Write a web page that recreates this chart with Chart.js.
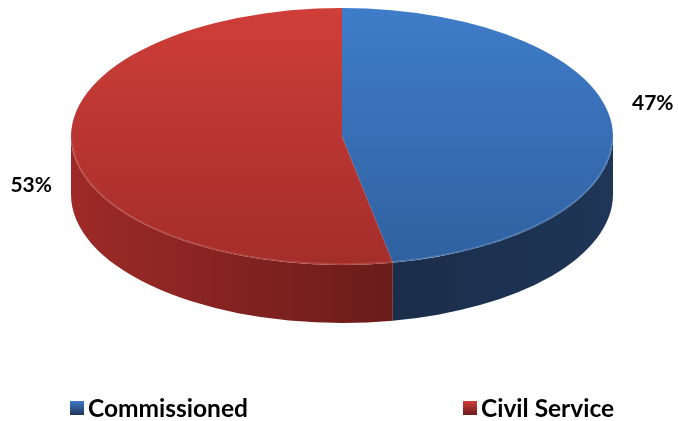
<!DOCTYPE html>
<html>
<head>
<meta charset="utf-8">
<script src="https://cdn.jsdelivr.net/npm/chart.js@4/dist/chart.umd.min.js"></script>
<style>
  html, body { margin: 0; padding: 0; background: #fff; }
  canvas { display: block; }
</style>
</head>
<body>
<canvas id="pie" width="678" height="421"></canvas>
<script>
// data
const categories = ["Commissioned", "Civil Service"];
const shares = [47, 53];

// palette: [light, dark] for the top face and the side wall of each slice
const topColors = [["#3f7cc9", "#2f61a0"], ["#cf3e38", "#a42d2a"]];
const sideColors = [["#1a2d4a", "#1f3658"], ["#9e2a27", "#6a1c1b"]];

const TILT = 0.474;   // vertical squash of the disc
const DEPTH = 58;     // thickness of the disc in px
const FONT = "Lato, 'Open Sans', sans-serif";

// vertical gradient for a slice's top face (coords are pre-squash)
function topFill(c) {
  const i = c.dataIndex;
  const { ctx, chartArea } = c.chart;
  if (!chartArea) return topColors[i][0];
  const cy = (chartArea.top + chartArea.bottom) / 2;
  const g = ctx.createLinearGradient(0, cy - 271, 0, cy + 271);
  g.addColorStop(0, topColors[i][0]);
  g.addColorStop(1, topColors[i][1]);
  return g;
}

// visible parts of [s,e] on the front half of the disc (angles 0..PI)
function frontSpans(s, e) {
  const out = [];
  for (const k of [-2, 0, 2]) {
    const a0 = Math.max(s, k * Math.PI), a1 = Math.min(e, k * Math.PI + Math.PI);
    if (a1 > a0) out.push([a0 - k * Math.PI, a1 - k * Math.PI]);
  }
  return out;
}

const pie3d = {
  id: "pie3d",
  beforeDatasetsDraw(chart) {
    const ctx = chart.ctx;
    const arcs = chart.getDatasetMeta(0).data;
    const { x: cx, y: cy, outerRadius: r } = arcs[0];
    const ry = r * TILT;

    // side walls go underneath the top faces
    arcs.forEach((arc, i) => {
      frontSpans(arc.startAngle, arc.endAngle).forEach(([a0, a1]) => {
        const x0 = cx + r * Math.cos(a0), x1 = cx + r * Math.cos(a1);
        const g = ctx.createLinearGradient(Math.min(x0, x1), 0, Math.max(x0, x1), 0);
        g.addColorStop(0, sideColors[i][0]);
        g.addColorStop(1, sideColors[i][1]);
        ctx.beginPath();
        ctx.ellipse(cx, cy, r, ry, 0, a0, a1);
        ctx.lineTo(x1, cy + ry * Math.sin(a1) + DEPTH);
        ctx.ellipse(cx, cy + DEPTH, r, ry, 0, a1, a0, true);
        ctx.closePath();
        ctx.fillStyle = g;
        ctx.fill();
      });
    });

    // squash the arcs Chart.js draws next into an ellipse
    ctx.save();
    ctx.translate(cx, cy);
    ctx.scale(1, TILT);
    ctx.translate(-cx, -cy);
  },
  afterDatasetsDraw(chart) {
    const ctx = chart.ctx;
    ctx.restore();

    const arcs = chart.getDatasetMeta(0).data;
    const { x: cx, y: cy, outerRadius: r } = arcs[0];
    const ry = r * TILT;

    // faint highlight along the front rim of the top face
    ctx.save();
    ctx.beginPath();
    ctx.ellipse(cx, cy, r - 1, ry - 1, 0, 0.05, Math.PI - 0.05);
    ctx.strokeStyle = "rgba(255,255,255,0.12)";
    ctx.lineWidth = 1.5;
    ctx.stroke();
    ctx.restore();

    const values = chart.data.datasets[0].data;
    const total = values.reduce((a, b) => a + b, 0);
    const shift = [[41, -21], [-41, 37]];

    ctx.save();
    ctx.font = "bold 21px " + FONT;
    ctx.fillStyle = "#000";
    ctx.textAlign = "center";
    ctx.textBaseline = "middle";
    arcs.forEach((arc, i) => {
      const mid = (arc.startAngle + arc.endAngle) / 2;
      const x = cx + r * Math.cos(mid) + shift[i][0];
      const y = cy + ry * Math.sin(mid) + shift[i][1];
      ctx.fillText(Math.round(values[i] / total * 100) + "%", x, y);
    });

    // legend row
    const legendX = [70, 463];
    const ly = 408;
    ctx.textAlign = "left";
    ctx.font = "bold 24.5px " + FONT;
    chart.data.labels.forEach((label, i) => {
      const bx = legendX[i];
      const g = ctx.createLinearGradient(0, ly - 7, 0, ly + 7);
      g.addColorStop(0, topColors[i][0]);
      g.addColorStop(1, sideColors[i][1]);
      ctx.fillStyle = g;
      ctx.fillRect(bx, ly - 7, 14, 14);
      ctx.fillStyle = "#000";
      ctx.fillText(label, bx + 18, ly + 1);
    });
    ctx.restore();
  }
};

new Chart(document.getElementById("pie"), {
  type: "pie",
  data: {
    labels: categories,
    datasets: [{
      data: shares,
      backgroundColor: topFill,
      borderWidth: 0,
      radius: 271
    }]
  },
  options: {
    responsive: false,
    animation: false,
    events: [],
    layout: { padding: { left: 6, right: 0, top: 0, bottom: 148 } },
    plugins: { legend: { display: false }, tooltip: { enabled: false } }
  },
  plugins: [pie3d]
});
</script>
</body>
</html>
